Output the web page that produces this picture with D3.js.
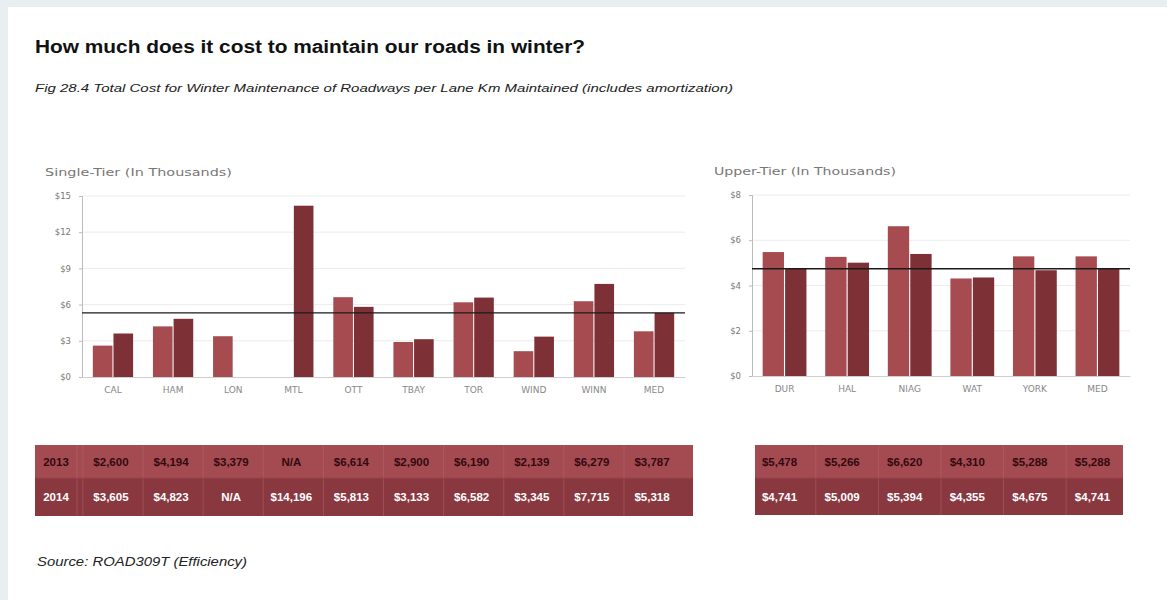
<!DOCTYPE html>
<html>
<head>
<meta charset="utf-8">
<script src="https://cdn.jsdelivr.net/npm/d3@7"></script>
<style>
  html, body { margin: 0; padding: 0; background: #e9eef1; }
  svg { display: block; }
</style>
</head>
<body>
<script>
// Winter maintenance cost per lane km, in thousands of dollars
const years = ["2013", "2014"];

const singleCities = ["CAL", "HAM", "LON", "MTL", "OTT", "TBAY", "TOR", "WIND", "WINN", "MED"];
const single2013 = [2.600, 4.194, 3.379, null, 6.614, 2.900, 6.190, 2.139, 6.279, 3.787];
const single2014 = [3.605, 4.823, null, 14.196, 5.813, 3.133, 6.582, 3.345, 7.715, 5.318];
const singleTicks = [0, 3, 6, 9, 12, 15];

const upperCities = ["DUR", "HAL", "NIAG", "WAT", "YORK", "MED"];
const upper2013 = [5.478, 5.266, 6.620, 4.310, 5.288, 5.288];
const upper2014 = [4.741, 5.009, 5.394, 4.355, 4.675, 4.741];
const upperTicks = [0, 2, 4, 6, 8];

const W = 1167, H = 600;
const fmt = v => v == null ? "N/A" : "$" + d3.format(",")(Math.round(v * 1000));
const colors = { "2013": "#a64c50", "2014": "#7d3036" };
const sans = "Liberation Sans, Arial, sans-serif";

const svg = d3.select("body").append("svg").attr("width", W).attr("height", H);

// page frame
svg.append("rect").attr("width", W).attr("height", H).attr("fill", "#e9eef1");
svg.append("rect").attr("x", 8).attr("y", 7).attr("width", W - 8).attr("height", H - 7).attr("fill", "#ffffff");

svg.append("text").attr("x", 35).attr("y", 53)
  .attr("font-family", sans).attr("font-size", 18).attr("font-weight", "bold").attr("fill", "#111")
  .attr("textLength", 550).attr("lengthAdjust", "spacingAndGlyphs")
  .text("How much does it cost to maintain our roads in winter?");

svg.append("text").attr("x", 35).attr("y", 92)
  .attr("font-family", sans).attr("font-size", 11).attr("font-style", "italic").attr("fill", "#222")
  .attr("textLength", 698).attr("lengthAdjust", "spacingAndGlyphs")
  .text("Fig 28.4  Total Cost for Winter Maintenance of Roadways per Lane Km Maintained (includes amortization)");

svg.append("text").attr("x", 37).attr("y", 566)
  .attr("font-family", sans).attr("font-size", 12).attr("font-style", "italic").attr("fill", "#222")
  .attr("textLength", 210).attr("lengthAdjust", "spacingAndGlyphs")
  .text("Source: ROAD309T (Efficiency)");

function panel(opts) {
  const { title, titleX, titleLen, cats, v13, v14, ticks, yMax, x0, x1, yTop, yBot, padInner, padOuter, refValue, table } = opts;
  const g = svg.append("g");

  const x = d3.scaleBand().domain(cats).range([x0, x1]).paddingInner(padInner).paddingOuter(padOuter);
  const xs = d3.scaleBand().domain(years).range([0, x.bandwidth()]).paddingInner(0.05);
  const y = d3.scaleLinear().domain([0, yMax]).range([yBot, yTop]);

  g.append("text").attr("x", titleX).attr("y", yTop - 20)
    .attr("font-family", "DejaVu Sans, sans-serif").attr("font-size", 11)
    .attr("textLength", titleLen).attr("lengthAdjust", "spacingAndGlyphs")
    .attr("fill", "#777").text(title);

  // gridlines
  g.selectAll(".grid").data(ticks.filter(t => t > 0)).join("line")
    .attr("x1", x0).attr("x2", x1)
    .attr("y1", d => y(d)).attr("y2", d => y(d))
    .attr("stroke", "#ececec").attr("stroke-width", 1);

  // y axis
  const yAxis = g.append("g").attr("transform", `translate(${x0},0)`)
    .call(d3.axisLeft(y).tickValues(ticks).tickFormat(d => "$" + d).tickSize(3).tickPadding(8));
  yAxis.select(".domain").attr("stroke", "#bbb");
  yAxis.selectAll(".tick line").attr("stroke", "#bbb");
  yAxis.selectAll("text").attr("font-family", "DejaVu Sans, sans-serif").attr("font-size", 8.5).attr("fill", "#777");

  // x axis
  const xAxis = g.append("g").attr("transform", `translate(0,${yBot})`)
    .call(d3.axisBottom(x).tickSize(0).tickPadding(10));
  xAxis.select(".domain").attr("stroke", "#cfcfcf");
  xAxis.selectAll("text").attr("font-family", "DejaVu Sans, sans-serif").attr("font-size", 9).attr("fill", "#888");

  const rows = cats.map((c, i) => ({ c, vals: [{ yr: "2013", v: v13[i] }, { yr: "2014", v: v14[i] }] }));
  g.selectAll(".grp").data(rows).join("g")
    .attr("transform", d => `translate(${x(d.c)},0)`)
    .selectAll("rect").data(d => d.vals.filter(e => e.v != null)).join("rect")
    .attr("x", d => xs(d.yr)).attr("width", xs.bandwidth())
    .attr("y", d => y(d.v)).attr("height", d => yBot - y(d.v))
    .attr("fill", d => colors[d.yr]);

  // reference line at the 2014 median
  g.append("line").attr("x1", x0).attr("x2", x1)
    .attr("y1", y(refValue)).attr("y2", y(refValue))
    .attr("stroke", "#1a1a1a").attr("stroke-width", 1.3);

  // data table under the chart
  const t = table;
  const tg = g.append("g");
  const rowH = [t.h1, t.h2];
  const rowY = [t.y, t.y + t.h1];
  const rowFill = ["#a44b51", "#8a3840"];
  const textFill = ["#330910", "#ffffff"];
  [0, 1].forEach(r => {
    tg.append("rect").attr("x", t.x0).attr("y", rowY[r]).attr("width", t.x1 - t.x0).attr("height", rowH[r])
      .attr("fill", rowFill[r]);
  });
  // column separators
  const seps = cats.map(c => x(c) - (x.step() - x.bandwidth()) / 2).filter(s => s > t.x0 + 2);
  if (t.labelCol) seps.unshift(t.x0 + t.labelCol);
  tg.selectAll(".sep").data(seps).join("line")
    .attr("x1", d => d).attr("x2", d => d).attr("y1", t.y).attr("y2", t.y + t.h1 + t.h2)
    .attr("stroke", "#b9676c").attr("stroke-width", 0.8).attr("opacity", 0.6);
  tg.append("line").attr("x1", t.x0).attr("x2", t.x1).attr("y1", t.y + t.h1).attr("y2", t.y + t.h1)
    .attr("stroke", "#9a444a").attr("stroke-width", 1);

  [v13, v14].forEach((vals, r) => {
    const cy = rowY[r] + rowH[r] / 2 + 4;
    if (t.labelCol) {
      tg.append("text").attr("x", t.x0 + t.labelCol / 2).attr("y", cy).attr("text-anchor", "middle")
        .attr("font-family", sans).attr("font-size", 11.5).attr("font-weight", "bold")
        .attr("fill", textFill[r]).text(years[r]);
    }
    tg.selectAll(".val" + r).data(cats.map((c, i) => ({ c, v: vals[i] }))).join("text")
      .attr("x", d => x(d.c) + x.bandwidth() / 2 + t.shift).attr("y", cy).attr("text-anchor", "middle")
      .attr("font-family", sans).attr("font-size", 11.5).attr("font-weight", "bold")
      .attr("fill", textFill[r]).text(d => fmt(d.v));
  });
}

panel({
  title: "Single-Tier (In Thousands)", titleX: 45, titleLen: 187,
  cats: singleCities, v13: single2013, v14: single2014, ticks: singleTicks, yMax: 15,
  x0: 82, x1: 685, yTop: 196, yBot: 377, padInner: 0.33, padOuter: 0.18,
  refValue: single2014[singleCities.indexOf("MED")],
  table: { x0: 35, x1: 693, y: 445, h1: 33, h2: 38, labelCol: 42, shift: -2 }
});

panel({
  title: "Upper-Tier (In Thousands)", titleX: 714, titleLen: 182,
  cats: upperCities, v13: upper2013, v14: upper2014, ticks: upperTicks, yMax: 8,
  x0: 752, x1: 1130, yTop: 195, yBot: 376, padInner: 0.3, padOuter: 0.17,
  refValue: upper2014[upperCities.indexOf("MED")],
  table: { x0: 755, x1: 1123, y: 445, h1: 33, h2: 37, labelCol: 0, shift: -5 }
});
</script>
</body>
</html>
